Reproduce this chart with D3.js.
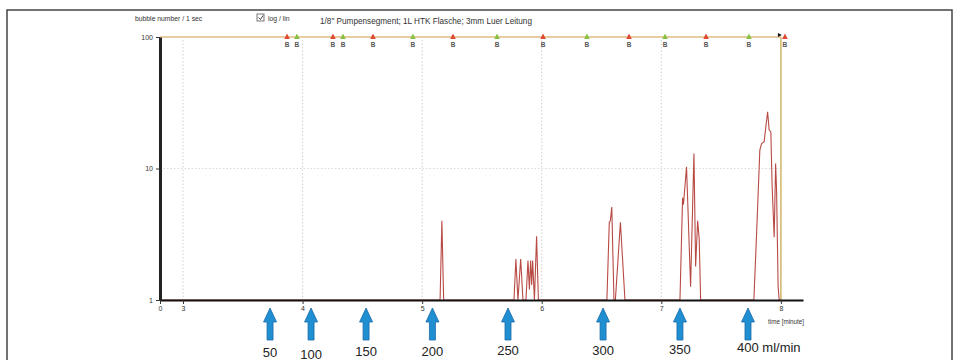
<!DOCTYPE html>
<html>
<head>
<meta charset="utf-8">
<script src="https://cdn.jsdelivr.net/npm/d3@7"></script>
<style>
  body { margin: 0; background: #fff; }
  svg { display: block; font-family: "Liberation Sans", Arial, sans-serif; }
</style>
</head>
<body>
<svg width="960" height="360"></svg>
<script>
// bubble counts per second (1 = no bubbles, sits on the axis)
const timeMin = [2.81, 5.15, 5.165, 5.18,
  5.768, 5.784, 5.801, 5.824, 5.843, 5.868, 5.885, 5.897, 5.907, 5.916, 5.924, 5.939, 5.957, 5.972,
  6.545, 6.565, 6.574, 6.586, 6.604, 6.616, 6.658, 6.696,
  7.156, 7.178, 7.185, 7.211, 7.245, 7.273, 7.287, 7.304, 7.317, 7.329,
  7.774, 7.797, 7.824, 7.839, 7.860, 7.889, 7.902, 7.916, 7.927, 7.944, 7.956, 7.964, 7.977, 7.986, 8.0];
const bubbles = [1, 1, 4.0, 1,
  1, 2.05, 1, 2.05, 1, 1, 2.0, 1.2, 2.0, 1.3, 2.0, 1, 3.05, 1,
  1, 3.9, 4.0, 5.1, 1, 1, 3.9, 1,
  1, 6.0, 5.3, 10.3, 1.26, 13.0, 1.8, 4.0, 2.9, 1,
  1, 3.2, 13.8, 15.5, 16, 27, 19.7, 19, 7.3, 3.0, 10.9, 6.9, 1.26, 1, 1];

// event markers along the top line
const markerTimes = [3.870, 3.953, 4.254, 4.338, 4.589, 4.923, 5.258, 5.626, 6.011, 6.378, 6.730, 7.031, 7.374, 7.733, 8.034];
const markerKinds = ["r", "g", "r", "g", "r", "g", "r", "g", "r", "g", "r", "g", "r", "g", "r"];

// flow rate steps (blue arrows)
const flowTimes = [3.728, 4.071, 4.531, 5.086, 5.718, 6.513, 7.156, 7.725];
const flowLabels = ["50", "100", "150", "200", "250", "300", "350", "400 ml/min"];
const flowLabelDy = [356.5, 358.5, 356, 355.5, 354.5, 354.5, 353.5, 352];

const xTickValues = [2.8077, 3, 4, 5, 6, 7, 8];
const xTickLabels = ["0", "3", "4", "5", "6", "7", "8"];
const yTickValues = [1, 10, 100];

const svg = d3.select("svg");

const x = d3.scaleLinear().domain([2.8077, 8.185]).range([160, 803]);
const y = d3.scaleLog().domain([1, 100]).range([300, 37]);

// outer frame
svg.append("rect")
  .attr("x", 7).attr("y", 10).attr("width", 945).attr("height", 370)
  .attr("fill", "none").attr("stroke", "#444").attr("stroke-width", 1.5);

// grid
svg.append("g").selectAll("line").data([3, 4, 5, 6, 7]).enter().append("line")
  .attr("x1", d => x(d)).attr("x2", d => x(d))
  .attr("y1", y(100) + 3).attr("y2", y(1))
  .attr("stroke", "#c8c0c0").attr("stroke-width", 0.8).attr("stroke-dasharray", "1.5,2");
svg.append("line")
  .attr("x1", x(2.8077)).attr("x2", x(8)).attr("y1", y(10)).attr("y2", y(10))
  .attr("stroke", "#cfcfcf").attr("stroke-width", 0.8).attr("stroke-dasharray", "1.5,2");

// top limit line and end line
svg.append("line")
  .attr("x1", x(2.8077)).attr("x2", x(8)).attr("y1", y(100)).attr("y2", y(100))
  .attr("stroke", "#e0bc80").attr("stroke-width", 1.5);
svg.append("line")
  .attr("x1", x(8)).attr("x2", x(8)).attr("y1", y(100)).attr("y2", y(1))
  .attr("stroke", "#d8c080").attr("stroke-width", 1.8);
svg.append("path")
  .attr("d", `M${x(8) - 3},${y(100) - 4} L${x(8) + 1},${y(100) - 2} L${x(8) - 3},${y(100)} Z`)
  .attr("fill", "#111");

// data line
const line = d3.line().x((d, i) => x(timeMin[i])).y(d => y(d));
svg.append("path")
  .datum(bubbles)
  .attr("d", line)
  .attr("fill", "none")
  .attr("stroke", "#b84a44")
  .attr("stroke-width", 1.1);

// axes
const xAxis = svg.append("g")
  .attr("transform", `translate(0,${y(1)})`)
  .call(d3.axisBottom(x).tickValues(xTickValues).tickFormat((d, i) => xTickLabels[i]).tickSize(4).tickSizeOuter(0));
xAxis.select(".domain").attr("stroke", "#111").attr("stroke-width", 2);
xAxis.selectAll(".tick line").attr("stroke", "#333");
xAxis.selectAll(".tick text").attr("font-size", 7).attr("fill", "#333").attr("dy", "0.5em");

const yAxis = svg.append("g")
  .attr("transform", `translate(${x(2.8077)},0)`)
  .call(d3.axisLeft(y).tickValues(yTickValues).tickFormat(d3.format("d")).tickSize(4).tickSizeOuter(0));
yAxis.select(".domain").attr("stroke", "#222").attr("stroke-width", 3);
yAxis.selectAll(".tick line").attr("stroke", "#333");
yAxis.selectAll(".tick text").attr("font-size", 7).attr("fill", "#333");

// markers
const mk = svg.append("g").selectAll("g").data(markerTimes).enter().append("g")
  .attr("transform", d => `translate(${x(d)},${y(100)})`);
mk.append("path")
  .attr("d", "M0,-3.5 L2.8,2 L-2.8,2 Z")
  .attr("fill", (d, i) => markerKinds[i] === "r" ? "#e04830" : "#88c040");
mk.append("text")
  .attr("y", 10).attr("text-anchor", "middle")
  .attr("font-size", 6.5).attr("font-weight", "bold").attr("fill", "#555")
  .text("B");

// header texts
svg.append("text").attr("x", 135).attr("y", 21).attr("font-size", 6.8).attr("fill", "#333")
  .text("bubble number / 1 sec");
svg.append("rect").attr("x", 257).attr("y", 14).attr("width", 7).attr("height", 7)
  .attr("fill", "#fff").attr("stroke", "#555").attr("stroke-width", 0.8);
svg.append("path").attr("d", "M258.5,17.5 L260.5,19.5 L263,15.5")
  .attr("fill", "none").attr("stroke", "#333").attr("stroke-width", 0.9);
svg.append("text").attr("x", 268).attr("y", 20.5).attr("font-size", 6.8).attr("fill", "#333")
  .text("log / lin");
svg.append("text").attr("x", 320).attr("y", 24).attr("font-size", 8.2).attr("fill", "#333")
  .text("1/8\" Pumpensegment; 1L HTK Flasche; 3mm Luer Leitung");
svg.append("text").attr("x", 768).attr("y", 324).attr("font-size", 6.3).attr("fill", "#333")
  .text("time [minute]");

// flow arrows
const ar = svg.append("g").selectAll("g").data(flowTimes).enter().append("g")
  .attr("transform", d => `translate(${x(d)},0)`);
ar.append("path")
  .attr("d", "M0,308 L6.5,322 L3,322 L3,340 L-3,340 L-3,322 L-6.5,322 Z")
  .attr("fill", "#1f8fd2").attr("stroke", "#1a6aa8").attr("stroke-width", 0.8);
ar.append("text")
  .attr("x", (d, i) => i === flowLabels.length - 1 ? -11 : 0)
  .attr("y", (d, i) => flowLabelDy[i])
  .attr("text-anchor", (d, i) => i === flowLabels.length - 1 ? "start" : "middle")
  .attr("font-size", 13).attr("fill", "#222")
  .text((d, i) => flowLabels[i]);
</script>
</body>
</html>
